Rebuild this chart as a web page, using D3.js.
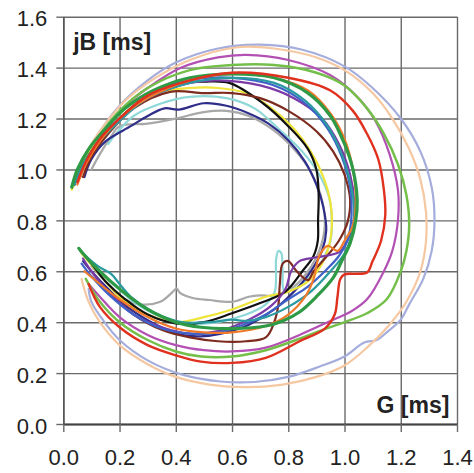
<!DOCTYPE html>
<html><head><meta charset="utf-8">
<script src="https://cdn.jsdelivr.net/npm/d3@7"></script>
<style>html,body{margin:0;padding:0;background:#fff;}svg{display:block;}</style>
</head><body>
<script>
// ---- data (G [ms], jB [ms]) ----
const xTicks = [0.0,0.2,0.4,0.6,0.8,1.0,1.2,1.4];
const yTicks = [0.0,0.2,0.4,0.6,0.8,1.0,1.2,1.4,1.6];
const xLabel = "G [ms]";
const yLabel = "jB [ms]";

const gray = [[0.1,1.0],[0.13,1.06],[0.17,1.13],[0.2,1.17],[0.3,1.18],[0.4,1.2],[0.5,1.225],[0.58,1.23],[0.66,1.21],[0.74,1.16],[0.82,1.08],[0.88,0.99],[0.92,0.88],[0.93,0.78],[0.91,0.68],[0.87,0.6],[0.82,0.54],[0.75,0.505],[0.7,0.505],[0.66,0.5],[0.6,0.48],[0.52,0.487],[0.46,0.495],[0.415,0.515],[0.403,0.533],[0.39,0.52],[0.345,0.48],[0.27,0.47],[0.22,0.49],[0.16,0.55],[0.1,0.62]];
const lavender = [[0.085,1.05],[0.12,1.13],[0.2,1.25],[0.3,1.35],[0.4,1.42],[0.55,1.475],[0.7,1.49],[0.85,1.47],[1.0,1.405],[1.1,1.32],[1.2,1.2],[1.27,1.07],[1.31,0.93],[1.32,0.8],[1.31,0.68],[1.28,0.57],[1.23,0.47],[1.2,0.41],[1.15,0.36],[1.115,0.33],[1.07,0.32],[1.0,0.265],[0.91,0.225],[0.8,0.185],[0.68,0.165],[0.56,0.167],[0.42,0.195],[0.3,0.25],[0.2,0.33],[0.14,0.41],[0.1,0.48],[0.09,0.53]];
const peach = [[0.035,0.93],[0.06,1.01],[0.1,1.1],[0.15,1.18],[0.22,1.27],[0.3,1.34],[0.45,1.43],[0.62,1.48],[0.75,1.475],[0.9,1.44],[1.0,1.39],[1.1,1.3],[1.17,1.2],[1.23,1.08],[1.27,0.96],[1.29,0.83],[1.29,0.72],[1.27,0.6],[1.22,0.48],[1.16,0.39],[1.08,0.3],[1.0,0.23],[0.9,0.185],[0.78,0.155],[0.65,0.145],[0.52,0.155],[0.4,0.185],[0.3,0.235],[0.2,0.31],[0.13,0.4],[0.09,0.48],[0.065,0.57]];
const magenta = [[0.07,1.0],[0.1,1.08],[0.15,1.16],[0.22,1.25],[0.3,1.32],[0.42,1.4],[0.55,1.44],[0.65,1.45],[0.8,1.43],[0.95,1.37],[1.05,1.28],[1.11,1.19],[1.16,1.06],[1.19,0.92],[1.19,0.8],[1.17,0.68],[1.14,0.6],[1.08,0.49],[1.02,0.44],[0.96,0.41],[0.84,0.35],[0.72,0.3],[0.6,0.285],[0.5,0.29],[0.4,0.31],[0.3,0.35],[0.2,0.42],[0.13,0.5],[0.09,0.55]];
const lightGreen = [[0.04,0.95],[0.07,1.03],[0.12,1.12],[0.2,1.23],[0.3,1.32],[0.45,1.39],[0.6,1.41],[0.75,1.41],[0.9,1.38],[1.0,1.33],[1.08,1.24],[1.14,1.14],[1.19,1.02],[1.22,0.9],[1.23,0.78],[1.22,0.68],[1.2,0.6],[1.15,0.49],[1.08,0.435],[1.0,0.4],[0.91,0.365],[0.84,0.335],[0.72,0.29],[0.6,0.265],[0.49,0.265],[0.4,0.285],[0.3,0.33],[0.2,0.4],[0.13,0.48],[0.08,0.57]];
const cyan = [[0.16,1.1],[0.18,1.13],[0.25,1.21],[0.35,1.26],[0.45,1.285],[0.58,1.28],[0.68,1.24],[0.77,1.155],[0.85,1.07],[0.91,0.98],[0.945,0.89],[0.955,0.8],[0.95,0.72],[0.92,0.64],[0.87,0.57],[0.82,0.53],[0.785,0.525],[0.78,0.6],[0.775,0.672],[0.765,0.68],[0.757,0.65],[0.752,0.52],[0.72,0.47],[0.65,0.43],[0.55,0.4],[0.45,0.395],[0.35,0.42],[0.25,0.48],[0.17,0.56],[0.11,0.62]];
const navy = [[0.075,0.97],[0.1,1.04],[0.15,1.11],[0.24,1.17],[0.3,1.21],[0.36,1.24],[0.41,1.235],[0.5,1.26],[0.58,1.25],[0.66,1.22],[0.73,1.18],[0.8,1.115],[0.86,1.03],[0.9,0.94],[0.925,0.85],[0.935,0.76],[0.92,0.68],[0.88,0.6],[0.82,0.52],[0.75,0.45],[0.66,0.39],[0.58,0.36],[0.5,0.345],[0.42,0.35],[0.33,0.39],[0.24,0.45],[0.16,0.53],[0.1,0.6],[0.07,0.64]];
const yellow = [[0.03,0.92],[0.06,1.0],[0.1,1.08],[0.17,1.17],[0.25,1.25],[0.35,1.305],[0.45,1.32],[0.55,1.32],[0.65,1.3],[0.735,1.245],[0.82,1.16],[0.88,1.07],[0.925,0.97],[0.95,0.87],[0.955,0.78],[0.945,0.7],[0.92,0.63],[0.87,0.56],[0.8,0.52],[0.72,0.5],[0.6,0.45],[0.5,0.42],[0.4,0.4],[0.3,0.43],[0.2,0.5],[0.12,0.6],[0.065,0.67]];
const black = [[0.04,0.94],[0.07,1.02],[0.12,1.1],[0.2,1.2],[0.3,1.29],[0.415,1.34],[0.5,1.345],[0.59,1.34],[0.71,1.26],[0.8,1.17],[0.87,1.08],[0.9,1.0],[0.908,0.9],[0.906,0.8],[0.905,0.72],[0.89,0.66],[0.85,0.6],[0.79,0.52],[0.7,0.475],[0.6,0.435],[0.5,0.4],[0.4,0.395],[0.3,0.43],[0.22,0.49],[0.15,0.56],[0.1,0.63],[0.07,0.67]];
const brown = [[0.07,0.97],[0.1,1.05],[0.16,1.14],[0.25,1.24],[0.38,1.305],[0.5,1.3],[0.6,1.3],[0.7,1.28],[0.8,1.23],[0.9,1.15],[0.96,1.07],[1.0,0.98],[1.02,0.88],[1.01,0.79],[0.98,0.72],[0.93,0.65],[0.89,0.6],[0.87,0.565],[0.83,0.6],[0.8,0.64],[0.78,0.63],[0.77,0.55],[0.765,0.47],[0.75,0.4],[0.72,0.34],[0.65,0.325],[0.55,0.325],[0.45,0.34],[0.35,0.37],[0.25,0.43],[0.16,0.52],[0.1,0.58]];
const purple = [[0.06,0.97],[0.09,1.05],[0.14,1.13],[0.22,1.22],[0.32,1.29],[0.45,1.34],[0.55,1.35],[0.7,1.33],[0.82,1.28],[0.92,1.2],[0.98,1.1],[1.02,0.98],[1.035,0.87],[1.03,0.78],[1.01,0.72],[0.98,0.675],[0.9,0.655],[0.84,0.64],[0.81,0.6],[0.79,0.53],[0.74,0.465],[0.66,0.41],[0.55,0.365],[0.45,0.355],[0.35,0.38],[0.25,0.43],[0.16,0.52],[0.1,0.6],[0.07,0.65]];
const blue = [[0.05,0.95],[0.08,1.03],[0.13,1.12],[0.22,1.22],[0.32,1.3],[0.45,1.35],[0.6,1.36],[0.75,1.33],[0.86,1.26],[0.94,1.16],[0.99,1.05],[1.02,0.93],[1.025,0.82],[1.01,0.72],[0.98,0.66],[0.93,0.6],[0.87,0.54],[0.8,0.49],[0.72,0.43],[0.64,0.39],[0.55,0.36],[0.45,0.355],[0.35,0.375],[0.25,0.43],[0.16,0.51],[0.1,0.58],[0.065,0.63]];
const teal = [[0.04,0.94],[0.07,1.02],[0.12,1.1],[0.2,1.19],[0.3,1.28],[0.45,1.34],[0.6,1.36],[0.75,1.34],[0.86,1.27],[0.94,1.17],[0.99,1.06],[1.02,0.95],[1.035,0.84],[1.025,0.74],[1.0,0.67],[0.95,0.6],[0.88,0.52],[0.8,0.46],[0.72,0.42],[0.65,0.405],[0.6,0.41],[0.52,0.4],[0.42,0.4],[0.32,0.44],[0.24,0.5],[0.2,0.55],[0.17,0.59],[0.13,0.615],[0.1,0.64],[0.06,0.68]];
const orange = [[0.05,0.94],[0.08,1.02],[0.13,1.11],[0.2,1.2],[0.3,1.28],[0.45,1.35],[0.6,1.375],[0.75,1.36],[0.87,1.31],[0.95,1.22],[1.0,1.12],[1.03,1.0],[1.04,0.88],[1.03,0.78],[1.0,0.72],[0.975,0.68],[0.94,0.7],[0.91,0.66],[0.89,0.57],[0.86,0.5],[0.8,0.43],[0.72,0.385],[0.6,0.36],[0.5,0.36],[0.4,0.375],[0.3,0.42],[0.2,0.49],[0.13,0.55],[0.075,0.6]];
const darkGreen = [[0.03,0.93],[0.05,1.0],[0.09,1.08],[0.15,1.16],[0.22,1.24],[0.32,1.31],[0.45,1.36],[0.6,1.375],[0.75,1.36],[0.87,1.3],[0.95,1.21],[1.0,1.1],[1.03,1.0],[1.045,0.88],[1.04,0.8],[1.02,0.71],[0.99,0.64],[0.96,0.575],[0.9,0.5],[0.84,0.44],[0.78,0.405],[0.72,0.385],[0.6,0.375],[0.49,0.38],[0.4,0.4],[0.3,0.45],[0.2,0.53],[0.12,0.61],[0.07,0.67],[0.055,0.69]];
const red = [[0.05,0.95],[0.08,1.03],[0.13,1.12],[0.2,1.2],[0.3,1.29],[0.45,1.35],[0.6,1.38],[0.8,1.36],[0.95,1.31],[1.03,1.23],[1.08,1.14],[1.12,1.04],[1.14,0.92],[1.145,0.82],[1.13,0.72],[1.1,0.64],[1.08,0.595],[1.04,0.59],[1.0,0.588],[0.985,0.57],[0.975,0.5],[0.965,0.43],[0.93,0.375],[0.84,0.325],[0.72,0.26],[0.6,0.24],[0.49,0.245],[0.4,0.27],[0.3,0.31],[0.2,0.38],[0.13,0.46],[0.09,0.55]];

const seriesData   = [gray, lavender, peach, magenta, lightGreen, cyan, navy, yellow, black, brown, purple, blue, teal, orange, darkGreen, red];
const seriesColors = ["#a8a8a8","#a5addc","#f6c8a2","#b350b4","#74bf4a","#8fd8d8","#2f2d8a","#eee43a","#111111","#7d2b1f","#7b3aa6","#3e62c8","#2a9aa0","#f07a2a","#2f9a45","#e0301e"];
const seriesWidths = [2.2,2.2,2.2,2.2,2.5,2.2,2.2,2.2,2.2,2.2,2.2,2.2,2.2,2.2,3.2,2.4];

// ---- layout ----
const W = 474, H = 473;
const margin = {left: 63.3, right: 17, top: 16.7, bottom: 49};
const iw = W - margin.left - margin.right, ih = H - margin.top - margin.bottom;

const svg = d3.select("body").append("svg").attr("width", W).attr("height", H);
const g = svg.append("g").attr("transform", `translate(${margin.left},${margin.top})`);

const x = d3.scaleLinear().domain([0, 1.4]).range([0, iw]);
const y = d3.scaleLinear().domain([0, 1.6]).range([ih, 0]);

const gridColor = "#6a6a6a";
const font = "'Liberation Sans', Arial, Helvetica, sans-serif";

// gridlines
const gx = g.append("g").attr("transform", `translate(0,${ih})`)
  .call(d3.axisBottom(x).tickValues(xTicks).tickSize(-ih).tickSizeOuter(0).tickFormat(""));
gx.select(".domain").remove();
gx.selectAll("line").attr("stroke", gridColor).attr("stroke-width", 1.4);

const gy = g.append("g")
  .call(d3.axisLeft(y).tickValues(yTicks).tickSize(-iw).tickSizeOuter(0).tickFormat(""));
gy.select(".domain").remove();
gy.selectAll("line").attr("stroke", gridColor).attr("stroke-width", 1.4);

// curves
const line = d3.line().x(d => x(d[0])).y(d => y(d[1])).curve(d3.curveCatmullRom.alpha(0.5));
seriesData.forEach((s, i) => {
  g.append("path").datum(s).attr("d", line)
    .attr("fill", "none").attr("stroke", seriesColors[i])
    .attr("stroke-width", seriesWidths[i]).attr("stroke-linejoin", "round").attr("stroke-linecap", "round");
});

// axes with labels
const ax = g.append("g").attr("transform", `translate(0,${ih})`)
  .call(d3.axisBottom(x).tickValues(xTicks).tickSize(8).tickSizeOuter(0).tickPadding(17).tickFormat(d3.format(".1f")));
ax.select(".domain").attr("stroke", "#444").attr("stroke-width", 2);
ax.selectAll("line").attr("stroke", gridColor).attr("stroke-width", 1.4);
ax.selectAll("text").attr("font-family", font).attr("font-size", 22).attr("fill", "#222");

const ay = g.append("g")
  .call(d3.axisLeft(y).tickValues(yTicks).tickSize(7).tickSizeOuter(0).tickPadding(9).tickFormat(d3.format(".1f")));
ay.select(".domain").attr("stroke", "#555").attr("stroke-width", 1.6);
ay.selectAll("line").attr("stroke", gridColor).attr("stroke-width", 1.4);
ay.selectAll("text").attr("font-family", font).attr("font-size", 22).attr("fill", "#222").attr("dy", "0.42em");

// axis titles
g.append("text").attr("x", x(0.035)).attr("y", y(1.47))
  .attr("font-family", font).attr("font-weight", "bold").attr("font-size", 23).attr("fill", "#222").text(yLabel);
g.append("text").attr("x", x(1.373)).attr("y", y(0.042)).attr("text-anchor", "end")
  .attr("font-family", font).attr("font-weight", "bold").attr("font-size", 23).attr("fill", "#222").text(xLabel);
</script>
</body></html>
